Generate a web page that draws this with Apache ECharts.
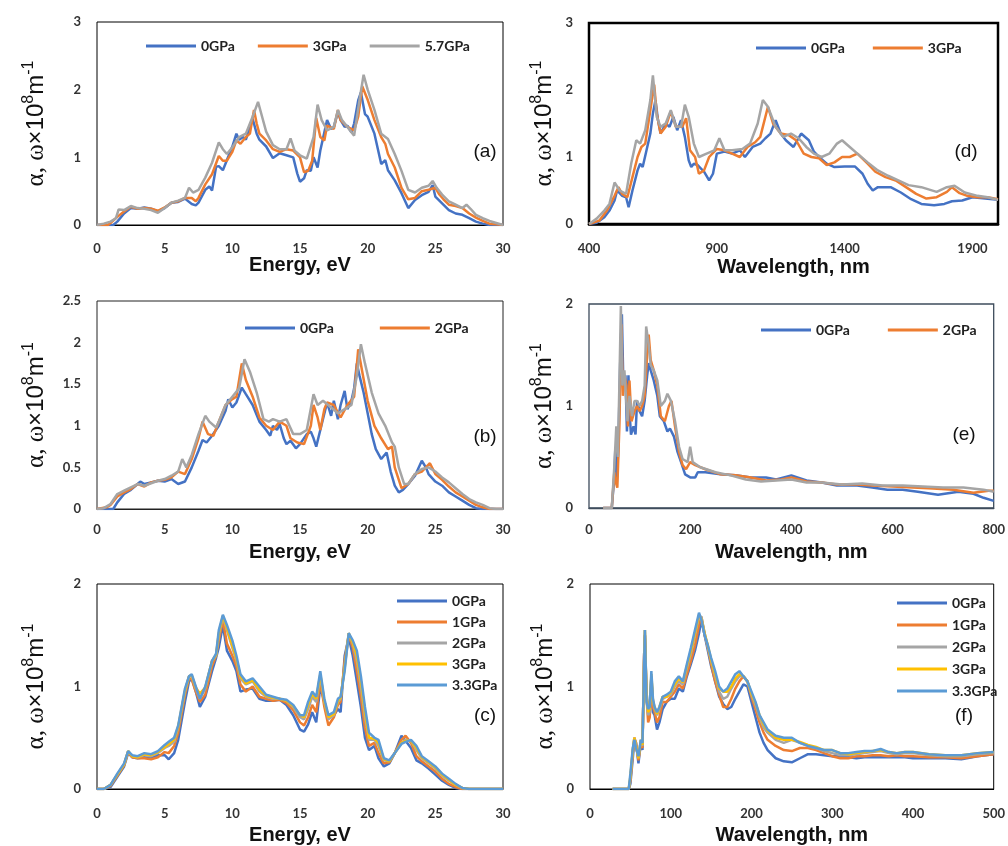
<!DOCTYPE html>
<html><head><meta charset="utf-8">
<script src="https://cdn.jsdelivr.net/npm/echarts@6/dist/echarts.min.js"></script>
<style>html,body{margin:0;padding:0;background:#fff}#c{width:1008px;height:846px}</style>
</head><body><div id="c"></div>
<script>
// ---------- DATA ----------
// Panel (a): energy (eV) vs alpha
const aBlue = [[0,0],[1.2,0],[1.5,0.05],[2,0.17],[2.5,0.25],[3,0.24],[3.5,0.26],[4,0.24],[4.5,0.2],[5,0.25],[5.5,0.33],[6,0.34],[6.5,0.39],[7,0.31],[7.3,0.29],[7.5,0.33],[8,0.52],[8.3,0.57],[8.5,0.51],[8.8,0.86],[9,0.87],[9.3,0.81],[9.5,0.91],[10,1.16],[10.3,1.35],[10.5,1.26],[10.8,1.3],[11,1.26],[11.3,1.45],[11.5,1.57],[11.8,1.35],[12,1.26],[12.5,1.16],[13,0.99],[13.5,1.06],[14,1.03],[14.5,1.0],[14.8,0.76],[15,0.64],[15.3,0.69],[15.5,0.81],[15.8,0.8],[16,1.0],[16.3,0.85],[16.5,1.1],[17,1.55],[17.3,1.42],[17.5,1.45],[17.8,1.67],[18,1.55],[18.3,1.45],[18.5,1.47],[18.8,1.37],[19,1.5],[19.3,1.84],[19.5,1.96],[19.8,1.64],[20,1.6],[20.5,1.35],[21,0.9],[21.3,0.96],[21.5,0.81],[22,0.66],[22.5,0.47],[23,0.25],[23.5,0.37],[24,0.44],[24.5,0.49],[24.8,0.59],[25,0.42],[25.5,0.32],[26,0.22],[26.5,0.17],[27,0.15],[27.5,0.1],[28,0.05],[28.5,0.02],[29,0],[30,0]];
const aOrange = [[0,0],[0.8,0],[1,0.03],[1.5,0.12],[2,0.2],[2.5,0.27],[3,0.24],[3.5,0.25],[4,0.24],[4.5,0.21],[5,0.26],[5.5,0.33],[6,0.35],[6.5,0.4],[7,0.4],[7.3,0.35],[7.5,0.4],[8,0.6],[8.5,0.75],[9,1.02],[9.3,0.95],[9.6,0.95],[10,1.08],[10.3,1.25],[10.6,1.2],[11,1.3],[11.3,1.35],[11.6,1.7],[11.8,1.5],[12,1.35],[12.5,1.25],[13,1.12],[13.5,1.08],[14,1.12],[14.5,1.1],[15,1.0],[15.3,0.78],[15.6,0.8],[15.9,0.95],[16.2,1.58],[16.5,1.3],[16.8,1.25],[17,1.47],[17.5,1.42],[17.8,1.7],[18,1.55],[18.5,1.45],[19,1.4],[19.3,1.6],[19.6,2.05],[20,1.85],[20.5,1.55],[21,1.3],[21.3,1.2],[21.5,1.05],[22,0.85],[22.5,0.55],[23,0.38],[23.5,0.4],[24,0.5],[24.5,0.52],[25,0.55],[25.3,0.45],[25.6,0.38],[26,0.3],[26.5,0.28],[27,0.25],[27.5,0.17],[28,0.11],[28.5,0.06],[29,0.02],[29.5,0.01],[30,0]];
const aGrey = [[0,0],[0.5,0.02],[1,0.05],[1.4,0.1],[1.6,0.23],[2,0.22],[2.5,0.28],[3,0.25],[3.5,0.24],[4,0.22],[4.5,0.18],[5,0.25],[5.5,0.33],[6,0.36],[6.5,0.4],[6.8,0.55],[7.1,0.48],[7.5,0.52],[8,0.7],[8.5,0.92],[9,1.22],[9.3,1.12],[9.6,1.05],[10,1.15],[10.5,1.3],[11,1.35],[11.5,1.6],[11.9,1.82],[12.2,1.6],[12.5,1.38],[13,1.18],[13.5,1.12],[14,1.12],[14.3,1.28],[14.6,1.1],[15,1.03],[15.5,0.98],[16,1.3],[16.3,1.78],[16.6,1.55],[17,1.4],[17.5,1.45],[17.8,1.7],[18.1,1.55],[18.5,1.45],[19,1.32],[19.4,1.85],[19.7,2.22],[20,2.0],[20.5,1.7],[21,1.35],[21.5,1.27],[22,1.05],[22.5,0.8],[23,0.52],[23.5,0.48],[24,0.55],[24.5,0.58],[24.8,0.65],[25.1,0.55],[25.5,0.45],[26,0.35],[26.5,0.3],[27,0.25],[27.3,0.3],[27.6,0.24],[28,0.15],[28.5,0.1],[29,0.06],[29.5,0.03],[30,0]];

// Panel (b)
const bBlue = [[0,0],[1.2,0],[1.5,0.08],[2,0.18],[2.5,0.23],[3,0.3],[3.2,0.33],[3.5,0.3],[4,0.32],[4.5,0.34],[5,0.33],[5.5,0.36],[6,0.3],[6.5,0.33],[7,0.5],[7.5,0.7],[7.8,0.83],[8.1,0.8],[8.5,0.88],[9,1.0],[9.5,1.18],[9.7,1.32],[10,1.22],[10.3,1.28],[10.7,1.46],[11,1.38],[11.5,1.25],[12,1.05],[12.5,0.95],[12.8,0.88],[13,1.0],[13.3,0.95],[13.5,1.02],[13.8,0.85],[14,0.78],[14.3,0.82],[14.7,0.73],[15,0.78],[15.5,0.9],[15.8,0.93],[16,0.85],[16.2,0.75],[16.5,0.95],[17,1.28],[17.3,1.12],[17.5,1.3],[17.8,1.08],[18,1.25],[18.3,1.42],[18.5,1.2],[18.8,1.3],[19,1.45],[19.2,1.75],[19.4,1.6],[19.7,1.4],[20,1.15],[20.3,0.9],[20.6,0.72],[21,0.6],[21.4,0.68],[21.7,0.45],[22,0.28],[22.3,0.2],[22.6,0.23],[23,0.3],[23.5,0.4],[24,0.58],[24.3,0.5],[24.5,0.42],[25,0.33],[25.5,0.28],[26,0.2],[26.5,0.15],[27,0.1],[27.5,0.05],[28,0.01],[28.5,0],[30,0]];
const bOrange = [[0,0],[0.7,0.02],[1,0.05],[1.5,0.15],[2,0.2],[2.5,0.24],[3,0.3],[3.5,0.27],[4,0.32],[4.5,0.34],[5,0.35],[5.5,0.38],[6,0.45],[6.5,0.42],[7,0.6],[7.5,0.85],[7.8,1.05],[8.2,0.9],[8.6,0.88],[9,1.05],[9.5,1.25],[10,1.32],[10.3,1.35],[10.7,1.75],[11,1.55],[11.5,1.35],[12,1.1],[12.5,1.0],[13,0.95],[13.5,1.05],[14,1.0],[14.3,0.85],[14.8,0.8],[15.3,0.78],[15.8,1.0],[16,1.25],[16.3,1.1],[16.5,0.95],[16.8,1.2],[17,1.28],[17.5,1.25],[18,1.1],[18.5,1.25],[19,1.35],[19.3,1.92],[19.6,1.65],[20,1.3],[20.5,1.0],[21,0.85],[21.5,0.72],[21.8,0.75],[22,0.5],[22.5,0.25],[23,0.3],[23.5,0.42],[24,0.45],[24.3,0.5],[24.6,0.55],[25,0.42],[25.5,0.35],[26,0.27],[26.5,0.2],[27,0.15],[27.5,0.1],[28,0.05],[28.5,0.02],[29,0],[30,0]];
const bGrey = [[0,0],[0.5,0.01],[1,0.06],[1.5,0.18],[2,0.22],[2.5,0.26],[3,0.3],[3.5,0.28],[4,0.31],[4.5,0.34],[5,0.36],[5.5,0.4],[6,0.45],[6.3,0.6],[6.6,0.5],[7,0.65],[7.5,0.9],[8,1.12],[8.3,1.05],[8.8,0.98],[9,1.05],[9.5,1.25],[10,1.35],[10.5,1.45],[10.9,1.8],[11.3,1.65],[11.8,1.4],[12.3,1.08],[12.7,1.05],[13,1.08],[13.5,1.05],[14,1.08],[14.5,0.9],[15,0.9],[15.5,0.95],[16,1.38],[16.3,1.25],[16.7,1.3],[17.3,1.22],[17.8,1.15],[18.3,1.2],[18.8,1.25],[19.2,1.6],[19.5,1.98],[19.8,1.75],[20.3,1.4],[20.8,1.15],[21.3,1.0],[21.8,0.8],[22,0.75],[22.3,0.5],[22.7,0.3],[23,0.3],[23.5,0.42],[24,0.48],[24.5,0.5],[25,0.45],[25.5,0.38],[26,0.32],[26.5,0.25],[27,0.18],[27.5,0.12],[28,0.08],[28.5,0.05],[29,0.01],[29.5,0],[30,0]];

// Panel (c): shared energy grid, five pressures
const cX = [0,0.5,1,1.5,2,2.3,2.6,3,3.5,4, 4.5,5,5.3,5.7,6,6.5,6.8,7,7.3,7.6, 8,8.5,8.8,9,9.3,9.6,10,10.3,10.6,11, 11.5,12,12.5,13,13.5,14,14.5,15,15.3,15.6, 15.9,16.2,16.5,16.8,17.1,17.5,17.8,18,18.3,18.6, 18.9,19.2,19.5,19.8,20.1,20.5,20.8,21.2,21.6,22, 22.5,22.8,23.2,23.6,24,24.5,25,25.5,26,26.5, 27,27.5,30];
const c0GPa = [0,0,0.02,0.12,0.22,0.35,0.31,0.3,0.31,0.3, 0.33,0.33,0.29,0.35,0.48,0.85,1.05,1.08,0.95,0.8, 0.9,1.15,1.28,1.38,1.6,1.35,1.25,1.15,0.95,0.97, 0.98,0.88,0.86,0.86,0.87,0.82,0.72,0.58,0.56,0.63, 0.75,0.65,1.0,0.85,0.7,0.72,0.78,0.75,1.3,1.48, 1.3,1.05,0.8,0.5,0.38,0.42,0.3,0.22,0.25,0.35, 0.52,0.47,0.4,0.28,0.25,0.2,0.14,0.08,0.04,0.01, 0,0,0];
const c1GPa = [0,0,0.03,0.13,0.23,0.36,0.31,0.3,0.3,0.29, 0.31,0.36,0.35,0.42,0.55,0.92,1.08,1.07,0.95,0.85, 0.92,1.2,1.3,1.45,1.65,1.42,1.3,1.2,1.02,0.95, 1.0,0.9,0.88,0.86,0.87,0.84,0.77,0.65,0.62,0.7, 0.82,0.75,1.05,0.8,0.62,0.7,0.82,0.85,1.25,1.5, 1.38,1.15,0.9,0.6,0.42,0.45,0.35,0.25,0.26,0.35, 0.48,0.52,0.45,0.32,0.27,0.22,0.17,0.1,0.05,0.02, 0,0,0];
const c2GPa = [0,0,0.04,0.14,0.24,0.37,0.32,0.31,0.33,0.32, 0.35,0.4,0.42,0.46,0.6,0.95,1.1,1.1,0.98,0.88, 0.98,1.25,1.3,1.5,1.68,1.55,1.38,1.25,1.08,1.02, 1.05,0.95,0.9,0.88,0.88,0.86,0.8,0.7,0.68,0.78, 0.9,0.85,1.1,0.85,0.68,0.72,0.85,0.88,1.2,1.52, 1.42,1.25,1.0,0.7,0.48,0.48,0.42,0.28,0.27,0.35, 0.45,0.48,0.47,0.38,0.3,0.25,0.2,0.13,0.08,0.04, 0.01,0,0];
const c3GPa = [0,0,0.04,0.14,0.24,0.37,0.32,0.31,0.34,0.33, 0.36,0.41,0.44,0.48,0.61,0.96,1.1,1.11,0.99,0.93, 0.99,1.25,1.31,1.52,1.69,1.57,1.4,1.27,1.1,1.03, 1.06,0.97,0.91,0.89,0.88,0.86,0.81,0.72,0.7,0.82, 0.93,0.88,1.12,0.86,0.7,0.73,0.86,0.89,1.18,1.52, 1.43,1.3,1.05,0.75,0.5,0.49,0.45,0.29,0.27,0.35, 0.45,0.47,0.47,0.4,0.31,0.26,0.21,0.14,0.09,0.04, 0.01,0,0];
const c33GPa = [0,0,0.04,0.15,0.25,0.37,0.33,0.32,0.35,0.34, 0.37,0.43,0.46,0.5,0.62,0.98,1.1,1.12,1.0,0.88, 1.0,1.25,1.32,1.55,1.7,1.6,1.45,1.3,1.12,1.05, 1.08,1.0,0.92,0.9,0.88,0.87,0.82,0.72,0.72,0.85, 0.95,0.9,1.15,0.88,0.72,0.75,0.88,0.9,1.15,1.52, 1.45,1.35,1.1,0.8,0.55,0.5,0.48,0.3,0.28,0.35, 0.44,0.46,0.48,0.42,0.32,0.27,0.22,0.15,0.1,0.05, 0.01,0,0];

// Panel (d): wavelength (nm)
const dBlue = [[400,0],[430,0.02],[460,0.1],[480,0.2],[500,0.35],[510,0.5],[530,0.42],[545,0.4],[555,0.25],[570,0.5],[590,0.8],[600,0.9],[610,0.85],[625,1.1],[640,1.35],[650,1.65],[660,1.85],[670,1.55],[680,1.35],[700,1.5],[715,1.45],[730,1.6],[745,1.4],[760,1.55],[775,1.3],[790,0.95],[800,0.85],[810,0.9],[825,0.88],[850,0.78],[870,0.65],[885,0.75],[900,1.05],[930,1.08],[960,1.05],[990,1.1],[1010,1.0],[1040,1.15],[1070,1.2],[1090,1.28],[1110,1.35],[1130,1.55],[1150,1.35],[1170,1.25],[1200,1.15],[1230,1.35],[1260,1.25],[1280,1.08],[1300,1.0],[1330,0.9],[1360,0.85],[1400,0.86],[1440,0.86],[1470,0.75],[1490,0.6],[1510,0.5],[1530,0.55],[1580,0.55],[1620,0.47],[1660,0.37],[1700,0.3],[1750,0.28],[1790,0.3],[1820,0.34],[1860,0.35],[1900,0.4],[1950,0.38],[2000,0.36]];
const dOrange = [[400,0],[440,0.05],[470,0.2],[500,0.42],[515,0.55],[530,0.45],[550,0.4],[570,0.7],[590,1.0],[605,1.15],[620,1.2],[640,1.7],[655,2.08],[665,1.65],[680,1.35],[700,1.45],[720,1.68],[740,1.45],[765,1.45],[780,1.58],[795,1.1],[815,1.0],[830,0.75],[850,0.8],[870,1.0],[900,1.12],[930,1.1],[960,1.05],[990,1.0],[1020,1.15],[1050,1.22],[1070,1.3],[1100,1.75],[1120,1.5],[1150,1.35],[1180,1.33],[1210,1.25],[1240,1.05],[1270,1.0],[1300,0.98],[1330,0.88],[1360,0.92],[1390,1.0],[1420,1.0],[1450,1.05],[1490,0.9],[1520,0.78],[1560,0.7],[1600,0.65],[1640,0.55],[1680,0.45],[1720,0.38],[1760,0.4],[1800,0.48],[1820,0.55],[1850,0.46],[1880,0.42],[1920,0.4],[1960,0.4],[2000,0.37]];
const dGrey = [[400,0],[430,0.08],[460,0.2],[480,0.3],[500,0.62],[520,0.5],[545,0.45],[565,0.9],[585,1.25],[600,1.2],[620,1.4],[640,1.85],[650,2.22],[665,1.6],[680,1.45],[700,1.5],[720,1.7],[740,1.45],[760,1.45],[775,1.78],[790,1.6],[810,1.2],[830,1.0],[860,1.05],[890,1.1],[910,1.28],[930,1.1],[960,1.1],[1000,1.12],[1030,1.2],[1060,1.5],[1080,1.85],[1100,1.75],[1130,1.45],[1160,1.3],[1190,1.35],[1220,1.28],[1250,1.15],[1280,1.05],[1310,1.0],[1340,1.05],[1370,1.2],[1390,1.25],[1420,1.15],[1450,1.05],[1490,0.92],[1530,0.8],[1570,0.72],[1610,0.65],[1650,0.58],[1700,0.55],[1760,0.48],[1800,0.55],[1830,0.57],[1870,0.47],[1920,0.42],[1960,0.4],[2000,0.36]];

// Panel (e)
const eBlue = [[28,0],[45,0],[50,0.3],[52,0.58],[55,0.25],[58,0.6],[62,1.5],[65,1.9],[68,1.2],[72,1.3],[75,0.75],[78,1.3],[80,0.95],[83,0.72],[88,0.8],[92,0.72],[95,1.05],[100,0.95],[105,0.9],[110,1.05],[115,1.3],[118,1.42],[122,1.35],[128,1.25],[135,1.1],[140,0.9],[148,0.85],[155,0.75],[160,0.78],[168,0.7],[175,0.55],[182,0.45],[190,0.33],[200,0.3],[210,0.3],[215,0.35],[230,0.35],[260,0.33],[290,0.32],[320,0.3],[350,0.3],[370,0.28],[400,0.32],[430,0.27],[460,0.25],[490,0.22],[530,0.22],[560,0.2],[590,0.18],[620,0.18],[650,0.16],[690,0.13],[730,0.16],[760,0.14],[780,0.1],[800,0.07]];
const eOrange = [[28,0],[45,0],[50,0.35],[53,0.25],[56,0.2],[60,0.8],[64,1.8],[67,1.1],[70,1.3],[74,1.2],[77,0.8],[80,1.25],[84,0.85],[90,0.95],[95,1.0],[100,0.95],[105,1.0],[110,1.1],[115,1.5],[118,1.7],[122,1.45],[128,1.35],[135,1.2],[142,0.9],[150,0.85],[158,1.0],[163,1.05],[170,0.8],[178,0.55],[185,0.42],[192,0.38],[200,0.45],[210,0.42],[230,0.38],[260,0.33],[290,0.32],[320,0.3],[350,0.27],[380,0.28],[400,0.3],[430,0.26],[460,0.25],[490,0.23],[530,0.23],[560,0.22],[600,0.21],[640,0.2],[680,0.19],[720,0.18],[760,0.15],[790,0.17],[800,0.17]];
const eGrey = [[28,0],[45,0],[50,0.4],[54,0.8],[57,0.5],[60,1.2],[63,1.98],[66,1.2],[70,1.35],[73,1.1],[76,0.85],[80,1.1],[85,0.9],[90,1.05],[95,1.05],[100,1.0],[105,1.05],[110,1.2],[113,1.78],[118,1.6],[122,1.4],[128,1.35],[135,1.25],[142,1.0],[150,1.05],[155,1.12],[162,1.05],[170,0.85],[178,0.6],[185,0.48],[195,0.45],[200,0.6],[205,0.45],[220,0.4],[250,0.35],[280,0.32],[310,0.28],[340,0.26],[370,0.27],[400,0.28],[430,0.25],[460,0.25],[500,0.23],[540,0.24],[580,0.22],[620,0.22],[660,0.21],[700,0.2],[740,0.2],[780,0.18],[800,0.16]];

// Panel (f): shared wavelength grid, five pressures
const fX = [28,48,50,53,55,57,60,63,65,67, 68,70,72,74,76,78,80,83,86,90, 95,100,105,110,115,120,125,130,135,138, 142,146,150,155,160,165,170,175,180,185, 190,195,200,205,210,215,220,230,240,250, 260,270,280,290,300,310,320,330,340,350, 360,370,380,390,400,420,440,460,480,500];
const f0GPa = [0,0,0.05,0.3,0.48,0.45,0.25,0.45,0.38,1.3, 1.5,0.95,0.78,0.72,1.1,0.75,0.72,0.58,0.65,0.78, 0.85,0.88,0.88,0.98,0.95,1.1,1.22,1.35,1.52,1.65, 1.5,1.35,1.2,1.05,0.9,0.83,0.78,0.8,0.88,0.95, 1.02,1.0,0.85,0.7,0.55,0.45,0.38,0.3,0.27,0.26, 0.3,0.34,0.34,0.33,0.32,0.32,0.31,0.3,0.31,0.31, 0.31,0.31,0.31,0.31,0.3,0.3,0.3,0.29,0.32,0.34];
const f1GPa = [0,0,0.08,0.35,0.5,0.45,0.28,0.45,0.4,1.3, 1.5,0.9,0.65,0.7,1.05,0.8,0.75,0.65,0.7,0.85, 0.85,0.9,0.95,1.02,0.98,1.12,1.25,1.4,1.6,1.68, 1.5,1.38,1.22,1.05,0.92,0.8,0.8,0.88,0.98,1.05, 1.1,1.05,0.9,0.78,0.65,0.55,0.48,0.42,0.38,0.37, 0.4,0.4,0.38,0.35,0.32,0.3,0.3,0.32,0.32,0.33, 0.33,0.32,0.33,0.32,0.32,0.31,0.31,0.3,0.32,0.34];
const f2GPa = [0,0,0.1,0.38,0.5,0.42,0.3,0.48,0.42,1.25, 1.55,0.88,0.72,0.75,1.1,0.85,0.78,0.72,0.78,0.88, 0.9,0.92,1.0,1.05,1.02,1.18,1.32,1.5,1.68,1.68, 1.52,1.38,1.25,1.1,0.95,0.88,0.9,0.98,1.05,1.1, 1.1,1.05,0.92,0.82,0.7,0.6,0.55,0.48,0.45,0.48, 0.45,0.42,0.4,0.37,0.35,0.33,0.33,0.34,0.35,0.36, 0.37,0.35,0.34,0.35,0.35,0.33,0.32,0.32,0.34,0.35];
const f3GPa = [0,0,0.12,0.38,0.5,0.42,0.3,0.48,0.43,1.22, 1.55,0.9,0.75,0.78,1.12,0.86,0.8,0.73,0.8,0.9, 0.9,0.94,1.02,1.08,1.04,1.2,1.35,1.52,1.7,1.66, 1.52,1.4,1.26,1.12,0.98,0.95,0.95,1.0,1.08,1.12, 1.1,1.05,0.93,0.84,0.72,0.63,0.57,0.5,0.48,0.48, 0.46,0.43,0.41,0.38,0.38,0.35,0.34,0.35,0.36,0.37, 0.38,0.36,0.35,0.36,0.36,0.34,0.33,0.33,0.35,0.36];
const f33GPa = [0,0,0.15,0.4,0.48,0.4,0.32,0.48,0.45,1.2, 1.55,0.85,0.78,0.8,1.15,0.88,0.8,0.75,0.8,0.9, 0.92,0.95,1.05,1.1,1.05,1.22,1.38,1.55,1.72,1.65, 1.5,1.4,1.28,1.15,1.0,0.95,0.98,1.05,1.12,1.15, 1.1,1.05,0.95,0.85,0.72,0.65,0.58,0.52,0.5,0.5, 0.45,0.42,0.4,0.38,0.38,0.35,0.35,0.36,0.37,0.37, 0.39,0.36,0.35,0.36,0.36,0.34,0.33,0.33,0.35,0.36];

// axis ranges [min, max, interval] / titles / panel tags, in order (a),(d),(b),(e),(c),(f)
const xRanges = [[0,30,5],[400,2000,500],[0,30,5],[0,800,200],[0,30,5],[0,500,100]];
const yRanges = [[0,3,1],[0,3,1],[0,2.5,0.5],[0,2,1],[0,2,1],[0,2,1]];
const xNames = ['Energy, eV','Wavelength, nm','Energy, eV','Wavelength, nm','Energy, eV','Wavelength, nm'];
const panelLabels = ['(a)','(d)','(b)','(e)','(c)','(f)'];

// ---------- STYLE / LAYOUT ----------
const BLUE='#4472C4', ORANGE='#ED7D31', GREY='#A5A5A5', YELLOW='#FFC000', LBLUE='#5B9BD5';
const grids = [
  {left:97, top:22, width:406, height:203, borderColor:'#000', borderWidth:1},
  {left:589, top:23, width:409, height:201, borderColor:'#000', borderWidth:2.5},
  {left:97, top:301, width:406, height:208, borderColor:'#222', borderWidth:1},
  {left:589, top:304, width:408, height:204, borderColor:'#3e4c5c', borderWidth:1.3},
  {left:97, top:584, width:406, height:205, borderColor:'#000', borderWidth:1},
  {left:590, top:584, width:407, height:205, borderColor:'#000', borderWidth:1}
];
const xNameGap = [30, 33, 33, 34, 36, 36];
const xLabelMargin = [17, 18, 14, 15, 18, 18];
const yNameGap = [46, 30, 46, 30, 46, 30];
const panelPos = [[485,152],[966,152],[485,437],[964,435],[485,716],[964,716]];

const tickFont = {fontFamily:'Lato', fontWeight:'bold', fontSize:13, color:'#333'};
const yName = '{g|α, ω}{n|×10}{s|8}{n|m}{s|-1}';
const yNameStyle = {rich:{
  g:{fontFamily:'Liberation Serif', fontSize:25, lineHeight:30, color:'#111'},
  n:{fontFamily:'Liberation Sans', fontSize:24, lineHeight:30, color:'#111'},
  s:{fontFamily:'Liberation Sans', fontSize:16, lineHeight:14, verticalAlign:'top', color:'#111'}
}};

function line(idx, name, data, color){
  return {type:'line', name, xAxisIndex:idx, yAxisIndex:idx, data, symbol:'none', showSymbol:false,
    lineStyle:{width:2.5, color}, itemStyle:{color}, emphasis:{disabled:true}, animation:false};
}
const zip = (xs, ys) => xs.map((x,i)=>[x, ys[i]]);

const series = [
  line(0,'0GPa',aBlue,BLUE), line(0,'3GPa',aOrange,ORANGE), line(0,'5.7GPa',aGrey,GREY),
  line(1,'0GPa',dBlue,BLUE), line(1,'3GPa',dOrange,ORANGE), line(1,'grey-d',dGrey,GREY),
  line(2,'0GPa',bBlue,BLUE), line(2,'2GPa',bOrange,ORANGE), line(2,'grey-b',bGrey,GREY),
  line(3,'0GPa',eBlue,BLUE), line(3,'2GPa',eOrange,ORANGE), line(3,'grey-e',eGrey,GREY),
  line(4,'0GPa',zip(cX,c0GPa),BLUE), line(4,'1GPa',zip(cX,c1GPa),ORANGE), line(4,'2GPa',zip(cX,c2GPa),GREY),
  line(4,'3GPa',zip(cX,c3GPa),YELLOW), line(4,'3.3GPa',zip(cX,c33GPa),LBLUE),
  line(5,'0GPa',zip(fX,f0GPa),BLUE), line(5,'1GPa',zip(fX,f1GPa),ORANGE), line(5,'2GPa',zip(fX,f2GPa),GREY),
  line(5,'3GPa',zip(fX,f3GPa),YELLOW), line(5,'3.3GPa',zip(fX,f33GPa),LBLUE)
];

const legTxt = {fontFamily:'Lato', fontWeight:'bold', fontSize:14, color:'#222'};
function legend(left, top, items, orient, gap){
  return {left, top, orient: orient||'horizontal', itemGap: gap, itemWidth:50, itemHeight:3, icon:'rect',
    selectedMode:false, textStyle:legTxt, padding:0,
    data: items.map(([n,c])=>({name:n, itemStyle:{color:c}}))};
}
const legends = [
  legend(146, 39, [['0GPa',BLUE],['3GPa',ORANGE],['5.7GPa',GREY]], 'horizontal', 23),
  legend(756, 41, [['0GPa',BLUE],['3GPa',ORANGE]], 'horizontal', 28),
  legend(245, 321, [['0GPa',BLUE],['2GPa',ORANGE]], 'horizontal', 46),
  legend(761, 323, [['0GPa',BLUE],['2GPa',ORANGE]], 'horizontal', 38),
  legend(397, 594, [['0GPa',BLUE],['1GPa',ORANGE],['2GPa',GREY],['3GPa',YELLOW],['3.3GPa',LBLUE]], 'vertical', 7),
  legend(897, 596, [['0GPa',BLUE],['1GPa',ORANGE],['2GPa',GREY],['3GPa',YELLOW],['3.3GPa',LBLUE]], 'vertical', 8)
];

const option = {
  backgroundColor:'#fff',
  animation:false,
  grid: grids.map(g=>Object.assign({show:true, backgroundColor:'transparent', containLabel:false}, g)),
  xAxis: xRanges.map((r,i)=>({
    type:'value', gridIndex:i, min:r[0], max:r[1], interval:r[2],
    name:xNames[i], nameLocation:'middle', nameGap:xNameGap[i],
    nameTextStyle:{fontFamily:'Liberation Sans', fontWeight:'bold', fontSize:20, color:'#111'},
    axisLine:{show:true, onZero:false, lineStyle:{color:grids[i].borderColor, width:grids[i].borderWidth}},
    axisTick:{show:false}, splitLine:{show:false},
    axisLabel:Object.assign({margin:xLabelMargin[i], showMaxLabel: i===1 ? false : true, formatter:(v)=>String(v)}, tickFont)
  })),
  yAxis: yRanges.map((r,i)=>({
    type:'value', gridIndex:i, min:r[0], max:r[1], interval:r[2],
    name:yName, nameLocation:'middle', nameRotate:90, nameGap:yNameGap[i], nameTextStyle:yNameStyle,
    axisLine:{show:false}, axisTick:{show:false}, splitLine:{show:false},
    axisLabel:Object.assign({margin:16, formatter:(v)=>String(v)}, tickFont)
  })),
  legend: legends,
  series,
  graphic: panelLabels.map((t,i)=>({type:'text', x:panelPos[i][0], y:panelPos[i][1], silent:true,
    style:{text:t, align:'center', verticalAlign:'middle', fontFamily:'Liberation Sans', fontSize:19, fill:'#111'}}))
};
const chart = echarts.init(document.getElementById('c'), null, {renderer:'canvas'});
chart.setOption(option);
</script></body></html>
